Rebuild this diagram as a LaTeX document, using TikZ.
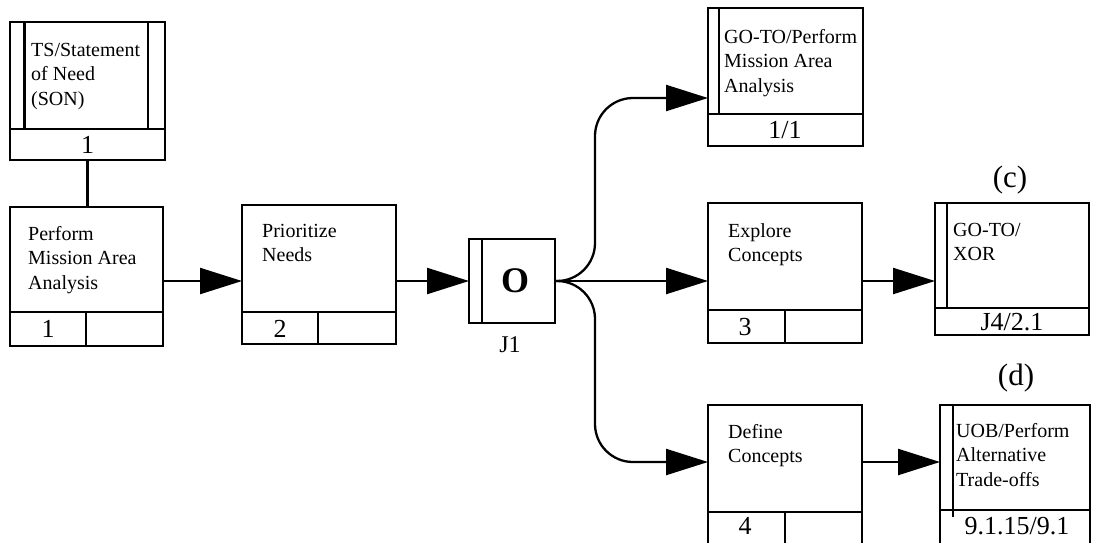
\documentclass[tikz,border=0pt]{standalone}
\usepackage{fontspec}
\setmainfont{Liberation Serif}
\usetikzlibrary{arrows.meta}
\begin{document}
\begin{tikzpicture}[x=1pt,y=-1pt,
  box/.style={draw, line width=2.8pt, anchor=north west, inner sep=0pt, outer sep=0pt},
  rule/.style={line width=2.8pt},
  boxtext/.style={anchor=north west, inner sep=0pt, align=left,
    font=\fontsize{20}{24.5}\selectfont},
  num/.style={inner sep=0pt, font=\fontsize{26}{28}\selectfont},
  tag/.style={inner sep=0pt, font=\fontsize{31}{33}\selectfont},
  flow/.style={line width=2.3pt, -{Triangle[length=42pt,width=26pt]}},
  link/.style={line width=2.3pt}]
\clip (0,0) rectangle (1094,542);
\useasboundingbox (0,0) rectangle (1094,542);

% ---- TS / Statement of Need (external input) ----
\node[box, minimum width=155pt, minimum height=138pt] (son) at (10,22) {};
\draw[rule] (son.west |- 0,129) -- (son.east |- 0,129);
\draw[rule] (24.5,22) -- (24.5,129);
\draw[rule] (148,22) -- (148,129);
\node[boxtext] (son-t) at (31,43) {TS/Statement\\of Need\\(SON)};
\node[num] (son-n) at (87.5,145) {1};

% ---- 1: Perform Mission Area Analysis ----
\node[box, minimum width=153pt, minimum height=139pt] (pma) at (10,207) {};
\draw[rule] (pma.west |- 0,312) -- (pma.east |- 0,312);
\draw[rule] (86,312) -- (pma.south -| 86,0);
\node[boxtext] (pma-t) at (28,226) {Perform\\Mission Area\\Analysis};
\node[num] (pma-n) at (48,329) {1};

% ---- 2: Prioritize Needs ----
\node[box, minimum width=154pt, minimum height=139pt] (pri) at (242,205) {};
\draw[rule] (pri.west |- 0,312) -- (pri.east |- 0,312);
\draw[rule] (318,312) -- (pri.south -| 318,0);
\node[boxtext] (pri-t) at (262,224) {Prioritize\\Needs};
\node[num] (pri-n) at (280,329) {2};

% ---- J1: OR junction ----
\node[box, minimum width=86pt, minimum height=84pt] (j1) at (469,239) {};
\draw[rule] (482,239) -- (482,323);
\node[inner sep=0pt, font=\fontsize{36}{38}\bfseries] (j1-o) at (515,281) {O};
\node[inner sep=0pt, font=\fontsize{24}{26}\selectfont] (j1-l) at (510,345) {J1};

% ---- GO-TO / Perform Mission Area Analysis ----
\node[box, minimum width=155pt, minimum height=138pt] (gt1) at (708,8) {};
\draw[rule] (gt1.west |- 0,114) -- (gt1.east |- 0,114);
\draw[rule] (719,8) -- (719,114);
\node[boxtext] (gt1-t) at (724,29) {GO-TO/Perform\\Mission Area\\Analysis};
\node[num] (gt1-n) at (785,130) {1/1};

% ---- 3: Explore Concepts ----
\node[box, minimum width=154pt, minimum height=140pt] (exp) at (708,203) {};
\draw[rule] (exp.west |- 0,310) -- (exp.east |- 0,310);
\draw[rule] (785,310) -- (exp.south -| 785,0);
\node[boxtext] (exp-t) at (728,223) {Explore\\Concepts};
\node[num] (exp-n) at (745,327) {3};

% ---- GO-TO / XOR ----
\node[tag] (lc) at (1010,180) {(c)};
\node[box, minimum width=154pt, minimum height=132pt] (gtx) at (935,203) {};
\draw[rule] (gtx.west |- 0,308) -- (gtx.east |- 0,308);
\draw[rule] (947,203) -- (947,308);
\node[boxtext] (gtx-t) at (953,223) {GO-TO/\\XOR};
\node[num] (gtx-n) at (1012,322) {J4/2.1};

% ---- 4: Define Concepts ----
\node[box, minimum width=154pt, minimum height=141pt] (def) at (708,405) {};
\draw[rule] (def.west |- 0,512) -- (def.east |- 0,512);
\draw[rule] (785,512) -- (def.south -| 785,0);
\node[boxtext] (def-t) at (728,424) {Define\\Concepts};
\node[num] (def-n) at (745,526) {4};

% ---- UOB / Perform Alternative Trade-offs ----
\node[tag] (ld) at (1016,378) {(d)};
\node[box, minimum width=150pt, minimum height=141pt] (uob) at (940,405) {};
\draw[rule] (uob.west |- 0,510) -- (uob.east |- 0,510);
\draw[rule] (953,405) -- (953,517);
\node[boxtext] (uob-t) at (956,423) {UOB/Perform\\Alternative\\Trade-offs};
\node[num] (uob-n) at (1017,526) {9.1.15/9.1};

% ---- connectors ----
\draw[link] (son.south) -- (son.south |- pma.north);
\draw[flow] (pma.east |- j1.east) -- (pri.west |- j1.east);
\draw[flow] (pri.east |- j1.east) -- (j1.west);
\draw[flow] (j1.east) -- (exp.west |- j1.east);
\draw[flow, rounded corners=38pt] (j1.east) -- (595,281) -- (595,98) -- (gt1.west |- 0,98);
\draw[flow, rounded corners=38pt] (j1.east) -- (595,281) -- (595,462) -- (def.west |- 0,462);
\draw[flow] (exp.east |- j1.east) -- (gtx.west |- j1.east);
\draw[flow] (def.east |- 0,462) -- (uob.west |- 0,462);
\end{tikzpicture}
\end{document}
